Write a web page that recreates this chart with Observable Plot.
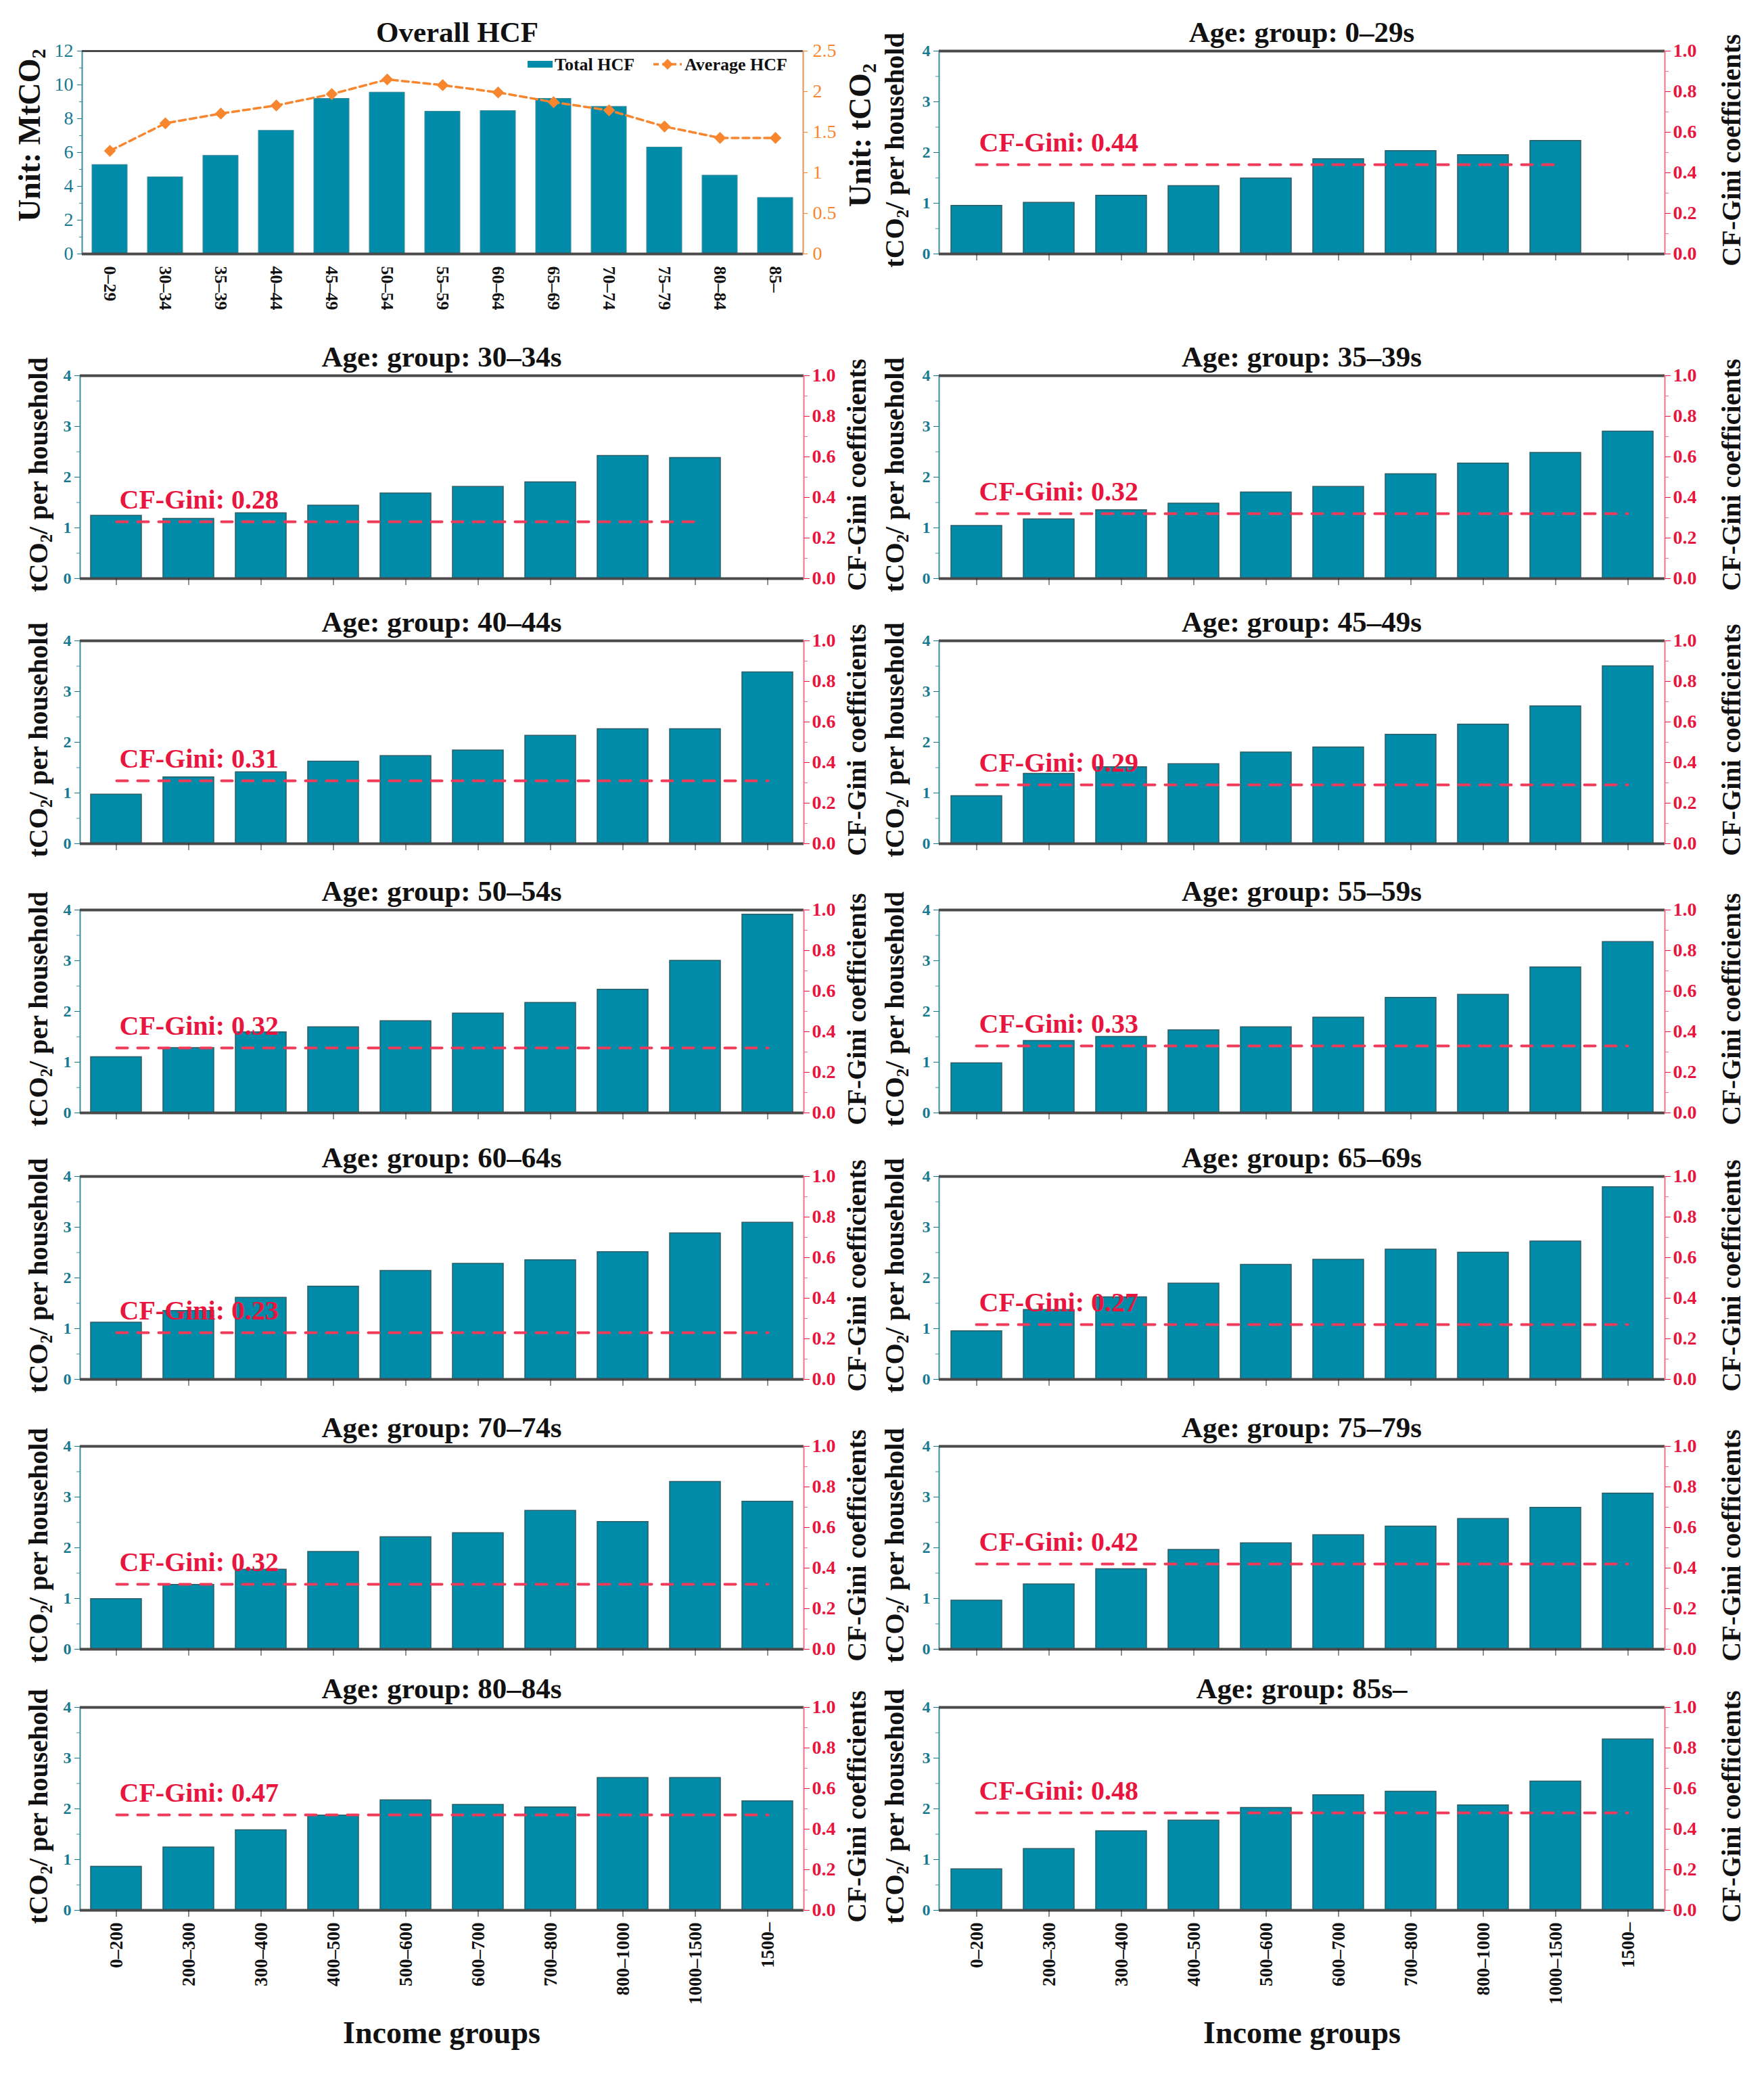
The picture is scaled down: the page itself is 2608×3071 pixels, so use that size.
<!DOCTYPE html>
<html>
<head>
<meta charset="utf-8">
<script src="https://cdn.jsdelivr.net/npm/d3@7"></script>
<script src="https://cdn.jsdelivr.net/npm/@observablehq/plot@0.6"></script>
<style>
  html, body { margin: 0; padding: 0; background: #ffffff; }
  #root { position: relative; width: 2608px; height: 3071px; font-family: "Liberation Serif", "Times New Roman", serif; color: #111; overflow: hidden; }
  .title { position: absolute; transform: translateX(-50%); white-space: nowrap; font-weight: bold; font-size: 43px; line-height: 43px; color: #111; }
  .vlabel { position: absolute; transform: translate(-50%, -50%) rotate(-90deg); white-space: nowrap; font-weight: bold; line-height: 1; color: #111; }
  .vlabel sub { font-size: 0.62em; vertical-align: -0.28em; line-height: 0; }
  .xlabel { position: absolute; transform: translateX(-50%); white-space: nowrap; font-weight: bold; font-size: 46px; line-height: 46px; color: #111; }
  .leg { position: absolute; white-space: nowrap; font-weight: bold; font-size: 26px; line-height: 26px; color: #111; }
</style>
</head>
<body>
<div id="root"></div>
<script>
// ---------------- DATA ----------------
const ageGroups = ["0–29", "30–34", "35–39", "40–44", "45–49", "50–54", "55–59", "60–64", "65–69", "70–74", "75–79", "80–84", "85–"];
const totalHCF = [5.27, 4.54, 5.81, 7.29, 9.18, 9.55, 8.42, 8.46, 9.18, 8.71, 6.30, 4.64, 3.32];      // MtCO2
const averageHCF = [1.27, 1.61, 1.73, 1.83, 1.97, 2.15, 2.08, 1.99, 1.87, 1.77, 1.57, 1.43, 1.43];   // tCO2

const incomeGroups = ["0–200", "200–300", "300–400", "400–500", "500–600", "600–700", "700–800", "800–1000", "1000–1500", "1500–"];

const panelTitles = ["0–29s", "30–34s", "35–39s", "40–44s", "45–49s", "50–54s", "55–59s", "60–64s", "65–69s", "70–74s", "75–79s", "80–84s", "85s–"];

const hcfAge0_29  = [0.95, 1.01, 1.15, 1.34, 1.49, 1.87, 2.03, 1.95, 2.23];
const hcfAge30_34 = [1.24, 1.18, 1.29, 1.44, 1.68, 1.81, 1.90, 2.42, 2.38];
const hcfAge35_39 = [1.04, 1.17, 1.35, 1.48, 1.70, 1.81, 2.06, 2.27, 2.48, 2.90];
const hcfAge40_44 = [0.97, 1.31, 1.41, 1.62, 1.73, 1.84, 2.13, 2.26, 2.26, 3.38];
const hcfAge45_49 = [0.94, 1.38, 1.51, 1.57, 1.80, 1.90, 2.15, 2.35, 2.71, 3.50];
const hcfAge50_54 = [1.10, 1.28, 1.59, 1.69, 1.81, 1.96, 2.17, 2.43, 3.00, 3.91];
const hcfAge55_59 = [0.98, 1.42, 1.50, 1.63, 1.69, 1.88, 2.27, 2.33, 2.87, 3.37];
const hcfAge60_64 = [1.12, 1.35, 1.61, 1.83, 2.14, 2.28, 2.35, 2.51, 2.88, 3.09];
const hcfAge65_69 = [0.95, 1.37, 1.62, 1.89, 2.26, 2.36, 2.56, 2.50, 2.72, 3.79];
const hcfAge70_74 = [0.99, 1.27, 1.57, 1.92, 2.21, 2.29, 2.73, 2.51, 3.30, 2.91];
const hcfAge75_79 = [0.96, 1.28, 1.58, 1.96, 2.09, 2.25, 2.42, 2.57, 2.79, 3.07];
const hcfAge80_84 = [0.86, 1.24, 1.58, 1.87, 2.17, 2.08, 2.03, 2.61, 2.61, 2.15];
const hcfAge85    = [0.81, 1.21, 1.56, 1.77, 2.02, 2.27, 2.34, 2.07, 2.54, 3.37];

const giniValues = [0.44, 0.28, 0.32, 0.31, 0.29, 0.32, 0.33, 0.23, 0.27, 0.32, 0.42, 0.47, 0.48];

const hcfTicks = [0, 1, 2, 3, 4];
const hcfMinorTicks = [0.5, 1.5, 2.5, 3.5];
const giniTicks = [0, 0.2, 0.4, 0.6, 0.8, 1.0];
const giniMinorTicks = [0.1, 0.3, 0.5, 0.7, 0.9];
const totalTicks = [0, 2, 4, 6, 8, 10, 12];
const totalMinorTicks = [1, 3, 5, 7, 9, 11];
const avgTicks = [0, 0.5, 1, 1.5, 2, 2.5];

const panelValues = [hcfAge0_29, hcfAge30_34, hcfAge35_39, hcfAge40_44, hcfAge45_49, hcfAge50_54, hcfAge55_59,
                     hcfAge60_64, hcfAge65_69, hcfAge70_74, hcfAge75_79, hcfAge80_84, hcfAge85];

// ---------------- STYLE ----------------
const TEAL = "#008ba8";
const BAR_EDGE = "#2d5d66";
const TEAL_AXIS = "#3a8fa0";
const TEAL_TEXT = "#17798f";
const RED_TEXT = "#e8163f";
const RED_LINE = "#f03a5a";
const RED_AXIS = "#f2728a";
const ORANGE = "#f7862e";
const ORANGE_AXIS = "#e2905c";
const FRAME = "#4a4a4a";
const FONT = "Liberation Serif, Times New Roman, serif";
const blank = () => "";
const plain = d => String(d);

const root = document.getElementById("root");
const PH = 300;
const rowTops = [75, 555, 947, 1345, 1739, 2138, 2524];
const LEFT = {svgX: 0, svgW: 1300, plotL: 118, plotR: 1188};
const RIGHT = {svgX: 1300, svgW: 1308, plotL: 1388, plotR: 2461};

function place(svg, left, top) {
  svg.style.position = "absolute";
  svg.style.left = left + "px";
  svg.style.top = top + "px";
  root.appendChild(svg);
}
function addDiv(cls, html, css) {
  const d = document.createElement("div");
  d.className = cls;
  d.innerHTML = html;
  Object.assign(d.style, css);
  root.appendChild(d);
  return d;
}
const baseStyle = {fontFamily: FONT, fontSize: "24px", background: "transparent", overflow: "visible"};

// ---------------- OVERALL PANEL ----------------
(function overall() {
  const plotL = 121, plotR = 1187, svgX = 0, svgW = 1300;
  const top = rowTops[0], mt = 10, mb = 110;
  const rows = ageGroups.map((g, i) => ({age: g, total: totalHCF[i], avg: averageHCF[i]}));
  const common = {
    width: svgW, height: PH + mt + mb,
    marginLeft: plotL - svgX, marginRight: svgX + svgW - plotR, marginTop: mt, marginBottom: mb,
    x: {domain: ageGroups, paddingInner: 0.37, paddingOuter: 0.185, axis: null},
    style: baseStyle
  };
  const bars = Plot.plot({
    ...common,
    y: {domain: [0, 12], axis: null},
    marks: [
      Plot.barY(rows, {x: "age", y: "total", fill: TEAL, stroke: "#3f8898", strokeWidth: 1}),
      Plot.frame({anchor: "left", stroke: TEAL_AXIS, strokeWidth: 2}),
      Plot.axisY({ticks: totalTicks, tickFormat: plain, tickSize: 7, tickPadding: 6, color: TEAL_TEXT, fontSize: 28, label: null}),
      Plot.axisY({ticks: totalMinorTicks, tickSize: 4, tickFormat: blank, color: TEAL_AXIS, label: null}),
      Plot.ruleY([0], {stroke: FRAME, strokeWidth: 4}),
      Plot.ruleY([12], {stroke: FRAME, strokeWidth: 3}),
      Plot.axisX({tickRotate: 90, tickSize: 0, tickPadding: 18, fontSize: 26, fontWeight: "bold", fill: "#111", label: null})
    ]
  });
  const line = Plot.plot({
    ...common,
    y: {domain: [0, 2.5], axis: null},
    marks: [
      Plot.frame({anchor: "right", stroke: ORANGE_AXIS, strokeWidth: 2}),
      Plot.axisY({anchor: "right", ticks: avgTicks, tickFormat: plain, tickSize: 6, tickPadding: 8, color: ORANGE, fontSize: 28, label: null}),
      Plot.line(rows, {x: "age", y: "avg", stroke: ORANGE, strokeWidth: 3.5, strokeDasharray: "10,6"}),
      Plot.dot(rows, {x: "age", y: "avg", symbol: "diamond2", r: 7, fill: ORANGE, stroke: ORANGE})
    ]
  });
  place(bars, svgX, top - mt);
  place(line, svgX, top - mt);

  addDiv("title", "Overall HCF", {left: "676px", top: (top - 49) + "px"});
  addDiv("vlabel", "Unit: MtCO<sub>2</sub>", {left: "44px", top: "200px", fontSize: "46px"});
  addDiv("vlabel", "Unit: tCO<sub>2</sub>", {left: "1272px", top: "200px", fontSize: "46px"});

  // legend
  addDiv("leg", "", {left: "780px", top: "90px", width: "37px", height: "10px", background: TEAL});
  addDiv("leg", "Total HCF", {left: "820px", top: "83px"});
  const lg = document.createElement("div");
  lg.className = "leg";
  lg.style.left = "964px"; lg.style.top = "84px";
  lg.innerHTML = `<svg width="46" height="22"><line x1="2" y1="11" x2="44" y2="11" stroke="${ORANGE}" stroke-width="3.5" stroke-dasharray="8,5"/><path d="M23,3 L31,11 L23,19 L15,11 Z" fill="${ORANGE}"/></svg>`;
  root.appendChild(lg);
  addDiv("leg", "Average HCF", {left: "1012px", top: "83px"});
})();

// ---------------- AGE PANELS ----------------
panelValues.forEach((values, idx) => {
  const slot = idx + 1, row = Math.floor(slot / 2), col = slot % 2;
  const C = col ? RIGHT : LEFT;
  const top = rowTops[row];
  const isLast = row === 6;
  const mt = 10, mb = isLast ? 200 : 30;
  const gini = giniValues[idx];
  const rows = values.map((v, i) => ({group: incomeGroups[i], value: v}));
  const giniLine = [{group: incomeGroups[0], gini}, {group: incomeGroups[values.length - 1], gini}];
  const giniLabel = [{group: incomeGroups[0], gini}];
  const common = {
    width: C.svgW, height: PH + mt + mb,
    marginLeft: C.plotL - C.svgX, marginRight: C.svgX + C.svgW - C.plotR, marginTop: mt, marginBottom: mb,
    x: {domain: incomeGroups, paddingInner: 0.3, paddingOuter: 0.15, axis: null},
    style: baseStyle
  };
  const barMarks = [
    Plot.barY(rows, {x: "group", y: "value", fill: TEAL, stroke: BAR_EDGE, strokeWidth: 1.5}),
    Plot.frame({anchor: "left", stroke: TEAL_AXIS, strokeWidth: 2}),
    Plot.axisY({ticks: hcfTicks, tickFormat: plain, tickSize: 8, tickPadding: 5, color: TEAL_TEXT, fontSize: 24, fontWeight: "bold", label: null}),
    Plot.axisY({ticks: hcfMinorTicks, tickSize: 5, tickFormat: blank, color: TEAL_AXIS, label: null}),
    Plot.ruleY([0], {stroke: FRAME, strokeWidth: 4}),
    Plot.ruleY([4], {stroke: FRAME, strokeWidth: 4})
  ];
  if (isLast) {
    barMarks.push(Plot.axisX({tickRotate: -90, tickSize: 10, tickPadding: 8, fontSize: 27, fontWeight: "bold", color: "#111", label: null}));
  } else {
    barMarks.push(Plot.axisX({tickSize: 10, tickFormat: blank, color: "#222", label: null}));
  }
  const bars = Plot.plot({...common, y: {domain: [0, 4], axis: null}, marks: barMarks});
  const gplot = Plot.plot({
    ...common,
    y: {domain: [0, 1], axis: null},
    marks: [
      Plot.frame({anchor: "right", stroke: RED_AXIS, strokeWidth: 2}),
      Plot.axisY({anchor: "right", ticks: giniTicks, tickFormat: d3.format(".1f"), tickSize: 8, tickPadding: 4, color: RED_TEXT, fontSize: 28, fontWeight: "bold", label: null}),
      Plot.axisY({anchor: "right", ticks: giniMinorTicks, tickSize: 5, tickFormat: blank, color: RED_AXIS, label: null}),
      Plot.line(giniLine, {x: "group", y: "gini", stroke: RED_LINE, strokeWidth: 4, strokeDasharray: "16,15"}),
      Plot.text(giniLabel, {x: "group", y: "gini", text: d => "CF-Gini: " + d.gini.toFixed(2),
        textAnchor: "start", lineAnchor: "bottom", dx: 4, dy: -20, fill: RED_TEXT, fontSize: 40, fontWeight: "bold"})
    ]
  });
  place(bars, C.svgX, top - mt);
  place(gplot, C.svgX, top - mt);

  const cx = (C.plotL + C.plotR) / 2;
  addDiv("title", "Age: group: " + panelTitles[idx], {left: cx + "px", top: (top - 49) + "px"});
  const leftLabelX = col ? 1323 : 57;
  const rightLabelX = col ? 2560 : 1267;
  addDiv("vlabel", "tCO<sub>2</sub>/ per household", {left: leftLabelX + "px", top: (top + 147) + "px", fontSize: "40px"});
  addDiv("vlabel", "CF-Gini coefficients", {left: rightLabelX + "px", top: (top + 147) + "px", fontSize: "40px"});
});

addDiv("xlabel", "Income groups", {left: "653px", top: "2983px"});
addDiv("xlabel", "Income groups", {left: "1925px", top: "2983px"});
</script>
</body>
</html>
